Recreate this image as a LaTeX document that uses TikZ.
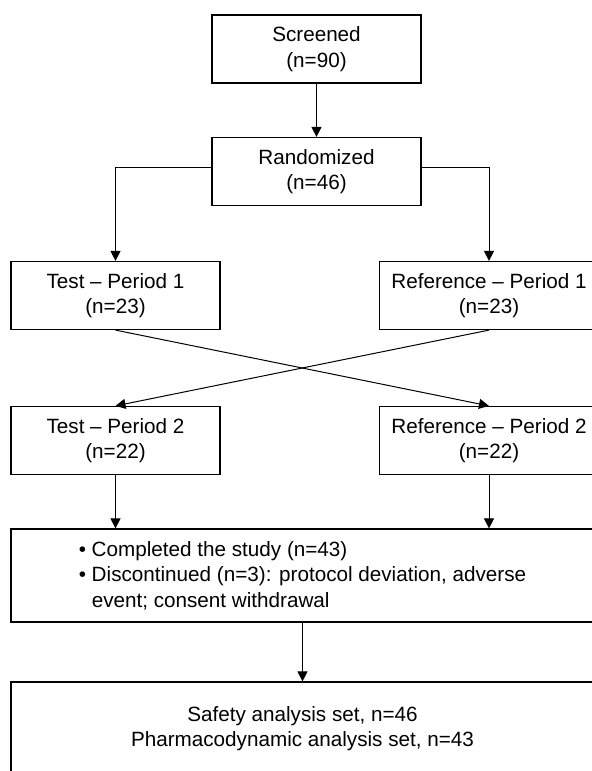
\documentclass[tikz,border=0pt]{standalone}
\usepackage{fontspec}
\setmainfont{Liberation Sans}
\usetikzlibrary{calc,arrows.meta,positioning}

\begin{document}
\begin{tikzpicture}[x=0.75pt,y=-0.75pt,
  box/.style={draw,line width=0.9pt,align=center,minimum width=156.75pt,
    minimum height=51pt,inner sep=2pt,font=\fontsize{15.5}{19}\selectfont},
  wide/.style={box,minimum width=437.25pt,minimum height=69.75pt},
  arr/.style={line width=0.75pt,-{Triangle[length=7.5pt,width=7.5pt]}}]

\useasboundingbox (0,0) rectangle (592,771);
\clip (0,0) rectangle (592,771);

\node [box] (scr) at (316.5,49) {Screened\\(n=90)};
\node [box] (rand) at (316.5,171.5) {Randomized\\(n=46)};

\foreach \p/\n/\y in {1/23/295.5,2/22/440.5} {
  \node [box] (t\p) at (115.5,\y) {Test -- Period \p\\(n=\n)};
  \node [box,minimum width=164pt] (r\p) at (489,\y) {Reference -- Period \p\\(n=\n)};
}

\node [wide,align=left] (done) at (302.5,575.5) {\textbullet\ Completed the study (n=43)\\
  \textbullet\ Discontinued (n=3): protocol deviation, adverse\\
  \hphantom{\textbullet\ }event; consent withdrawal};
\node [wide] (sets) at (302.5,728.5) {Safety analysis set, n=46\\Pharmacodynamic analysis set, n=43};

\draw [arr] (scr) -- (rand);
\draw [arr] ([yshift=3pt]rand.west) -| (t1.north);
\draw [arr] ([yshift=3pt]rand.east) -| (r1.north);
\draw [arr] (t1.south) -- (r2.north);
\draw [arr] (r1.south) -- (t2.north);
\draw [arr] (t2.south) -- (t2.south |- done.north);
\draw [arr] (r2.south) -- (r2.south |- done.north);
\draw [arr] (done) -- (sets);
\end{tikzpicture}
\end{document}
